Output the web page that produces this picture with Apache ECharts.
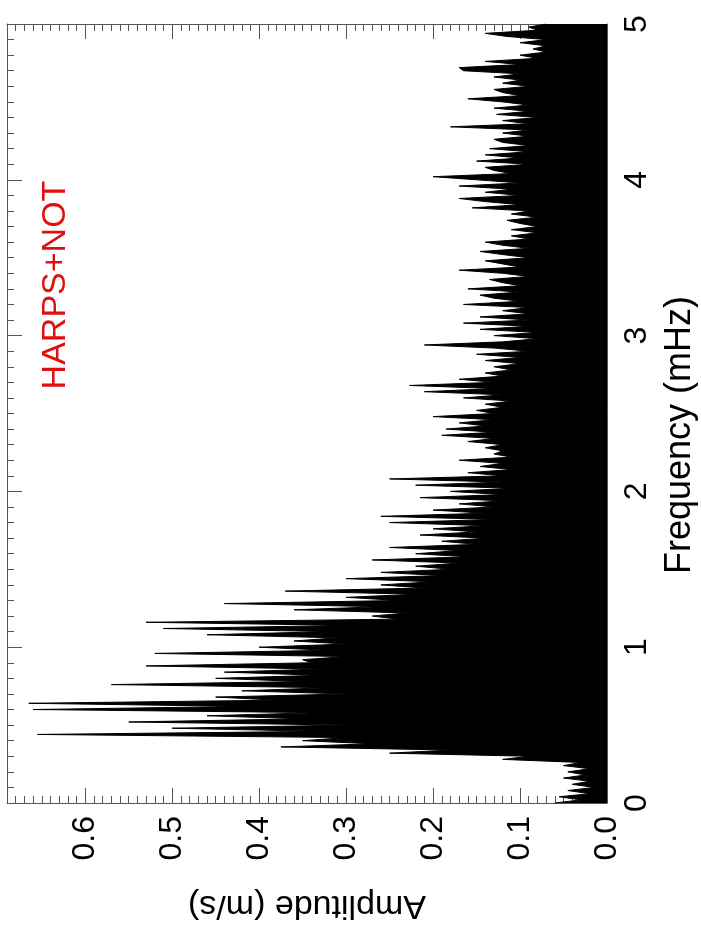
<!DOCTYPE html>
<html>
<head>
<meta charset="utf-8">
<script src="https://cdn.jsdelivr.net/npm/echarts@6/dist/echarts.min.js"></script>
<style>
html,body{margin:0;padding:0;background:#fff;}
#chart{width:701px;height:939px;}
</style>
</head>
<body>
<div id="chart"></div>
<script>
// Frequency grid (mHz), one sample every 0.02 mHz from 0 to 5
const freqStep = 0.02;
const freqCount = 251;
// Amplitude (m/s), one value per frequency sample
const amplitude = [
0.06,0.03,0.055,0.02,0.045,0.015,0.04,0.02,0.05,0.025,
0.045,0.02,0.05,0.03,0.12,0.09,0.25,0.18,0.375,0.27,
0.35,0.30,0.655,0.33,0.50,0.30,0.55,0.35,0.46,0.33,
0.66,0.42,0.665,0.38,0.45,0.30,0.42,0.32,0.57,0.35,
0.45,0.33,0.44,0.33,0.53,0.34,0.35,0.30,0.52,0.32,
0.40,0.30,0.36,0.31,0.46,0.32,0.51,0.30,0.53,0.24,
0.27,0.23,0.36,0.26,0.44,0.24,0.30,0.22,0.37,0.21,
0.26,0.20,0.30,0.19,0.26,0.18,0.22,0.17,0.27,0.16,
0.22,0.17,0.25,0.15,0.19,0.14,0.215,0.15,0.20,0.14,
0.25,0.13,0.26,0.14,0.20,0.13,0.17,0.12,0.215,0.12,
0.18,0.11,0.22,0.12,0.25,0.12,0.16,0.11,0.146,0.12,
0.17,0.11,0.13,0.12,0.14,0.12,0.16,0.13,0.19,0.13,
0.185,0.14,0.17,0.13,0.20,0.13,0.15,0.12,0.14,0.11,
0.165,0.12,0.21,0.13,0.227,0.13,0.17,0.12,0.14,0.11,
0.13,0.10,0.14,0.10,0.15,0.09,0.13,0.21,0.12,0.08,
0.13,0.08,0.146,0.09,0.165,0.09,0.146,0.09,0.12,0.09,
0.165,0.10,0.13,0.146,0.10,0.16,0.10,0.12,0.135,0.09,
0.12,0.17,0.10,0.12,0.14,0.09,0.12,0.146,0.09,0.12,
0.14,0.09,0.11,0.08,0.11,0.08,0.10,0.115,0.08,0.11,
0.09,0.155,0.10,0.14,0.17,0.10,0.14,0.11,0.17,0.10,
0.15,0.20,0.11,0.13,0.14,0.09,0.15,0.10,0.14,0.09,
0.135,0.09,0.12,0.13,0.09,0.12,0.09,0.18,0.09,0.12,
0.08,0.127,0.09,0.13,0.09,0.12,0.16,0.10,0.12,0.13,
0.09,0.12,0.10,0.13,0.10,0.165,0.17,0.10,0.14,0.08,
0.10,0.07,0.085,0.07,0.10,0.07,0.115,0.14,0.08,0.09,
0.07
];
const freqLabels = [];
for (let i = 0; i < freqCount; i++) freqLabels.push((i * freqStep).toFixed(2));

const ampTicks = [0.0, 0.1, 0.2, 0.3, 0.4, 0.5, 0.6];
const freqTicks = [0, 1, 2, 3, 4, 5];
const labelText = 'HARPS+NOT';
const ampTitle = 'Amplitude (m/s)';
const freqTitle = 'Frequency (mHz)';

const FONT = 'Liberation Sans, Arial, Helvetica, sans-serif';
const frameColor = '#555';

const chart = echarts.init(document.getElementById('chart'), null, {renderer: 'canvas'});

const commonTick = {show: true, inside: true, length: 15, lineStyle: {color: frameColor, width: 1}};
const commonMinor = {show: true, splitNumber: 10, length: 7, lineStyle: {color: frameColor, width: 1}};
const commonLine = {show: true, onZero: false, lineStyle: {color: frameColor, width: 1}};

const option = {
  animation: false,
  backgroundColor: '#fff',
  grid: {left: 7, right: 94, top: 24, bottom: 136, containLabel: false, outerBoundsMode: 'none'},
  xAxis: [
    {
      type: 'value', min: 0, max: 0.69, interval: 0.1, inverse: true, position: 'bottom',
      axisLine: commonLine, axisTick: commonTick, minorTick: commonMinor,
      splitLine: {show: false}, minorSplitLine: {show: false},
      axisLabel: {
        rotate: 90, margin: 13, fontSize: 32, fontFamily: FONT, color: '#000',
        showMaxLabel: false,
        formatter: function (v) {
          const r = Math.round(v * 10) / 10;
          return ampTicks.some(t => Math.abs(t - v) < 1e-6) ? r.toFixed(1) : '';
        }
      },
      name: ampTitle, nameLocation: 'middle', nameRotate: 180, nameGap: 85,
      nameTextStyle: {fontSize: 34, fontFamily: FONT, color: '#000'}
    },
    {
      type: 'value', min: 0, max: 0.69, interval: 0.1, inverse: true, position: 'top',
      axisLine: commonLine, axisTick: commonTick, minorTick: commonMinor,
      splitLine: {show: false}, axisLabel: {show: false}
    }
  ],
  yAxis: [
    {
      type: 'category', data: freqLabels, boundaryGap: false, show: false
    },
    {
      type: 'value', min: 0, max: 5, interval: 1, position: 'right',
      axisLine: commonLine, axisTick: commonTick, minorTick: commonMinor,
      splitLine: {show: false},
      axisLabel: {
        rotate: 90, margin: 14, fontSize: 32, fontFamily: FONT, color: '#000',
        formatter: function (v) { return freqTicks.indexOf(v) >= 0 ? String(v) : ''; }
      }
    },
    {
      type: 'value', min: 0, max: 5, interval: 1, position: 'left',
      axisLine: commonLine, axisTick: commonTick, minorTick: commonMinor,
      splitLine: {show: false}, axisLabel: {show: false}
    }
  ],
  series: [
    {
      type: 'line', xAxisIndex: 0, yAxisIndex: 0,
      data: amplitude, symbol: 'none', smooth: false,
      lineStyle: {color: '#000', width: 1},
      areaStyle: {color: '#000', opacity: 1}
    }
  ],
  graphic: [
    {
      type: 'text', x: 56, y: 285, rotation: Math.PI / 2,
      style: {text: labelText, fill: '#e01010', font: '34px ' + FONT, textAlign: 'center', textVerticalAlign: 'middle'}
    },
    {
      type: 'text', x: 680, y: 435, rotation: Math.PI / 2,
      style: {text: freqTitle, fill: '#000', font: '36px ' + FONT, textAlign: 'center', textVerticalAlign: 'middle'}
    }
  ]
};
chart.setOption(option);
</script>
</body>
</html>
